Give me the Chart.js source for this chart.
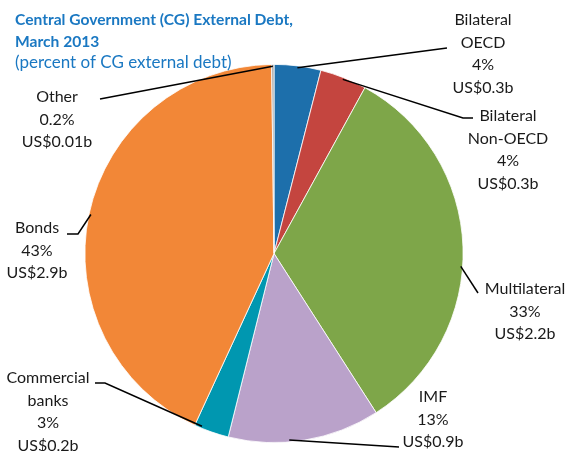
<!DOCTYPE html>
<html>
<head>
<meta charset="utf-8">
<script src="https://cdn.jsdelivr.net/npm/chart.js@4.4.0/dist/chart.umd.min.js"></script>
<style>
  html, body { margin: 0; padding: 0; background: #fff; }
  #wrap { position: relative; width: 569px; height: 451px; }
</style>
</head>
<body>
<div id="wrap"><canvas id="debt-pie" width="569" height="451"></canvas></div>
<script>
// Central government external debt by creditor, March 2013
const categories = ['Bilateral OECD', 'Bilateral Non-OECD', 'Multilateral', 'IMF', 'Commercial banks', 'Bonds', 'Other'];
const labelLines = [['Bilateral', 'OECD'], ['Bilateral', 'Non-OECD'], ['Multilateral'], ['IMF'], ['Commercial', 'banks'], ['Bonds'], ['Other']];
const shares = [4, 4, 33, 13, 3, 43, 0.2];
const amounts = ['0.3', '0.3', '2.2', '0.9', '0.2', '2.9', '0.01'];
const sliceColors = ['#1d6fab', '#c4453f', '#7ea649', '#baa2ca', '#0097b0', '#f28737', '#a6a6a6'];

const titleLines = ['Central Government (CG) External Debt,', 'March 2013'];
const subtitle = '(percent of CG external debt)';

// callout placement: where along the slice the leader starts (0..1),
// the leader's further points, and the centre/top of the text block
const callouts = [
    { t: 0.5,  path: [[447, 48]],              x: 483, y: 20 },
    { t: 0.5,  path: [[463, 118], [473, 118]], x: 508, y: 116 },
    { t: 0.55, path: [[478, 293]],             x: 525, y: 289 },
    { t: 0.6,  path: [[399, 447]],             x: 433, y: 397 },
    { t: 0.8,  path: [[105, 383], [95, 383]],  x: 48,  y: 378 },
    { t: 0.5,  path: [[78, 234], [67, 234]],   x: 37,  y: 228 },
    { t: 0.5,  path: [[100, 99]],              x: 57,  y: 97 }
];

const FONT = 'Lato, "Open Sans", sans-serif';
const LINE_H = 22.5;

const calloutPlugin = {
    id: 'callouts',
    afterDraw(chart) {
        const ctx = chart.ctx;
        const arcs = chart.getDatasetMeta(0).data;

        ctx.save();
        // leader lines
        ctx.strokeStyle = '#000';
        ctx.lineWidth = 1.5;
        arcs.forEach((arc, i) => {
            const c = callouts[i];
            const p = arc.getProps(['x', 'y', 'startAngle', 'endAngle', 'outerRadius'], true);
            const a = p.startAngle + (p.endAngle - p.startAngle) * c.t;
            const r = p.outerRadius * 0.99;
            ctx.beginPath();
            ctx.moveTo(p.x + Math.cos(a) * r, p.y + Math.sin(a) * r);
            c.path.forEach(pt => ctx.lineTo(pt[0], pt[1]));
            ctx.stroke();
        });

        // label text
        ctx.fillStyle = '#1a1a1a';
        ctx.font = '16px ' + FONT;
        ctx.textAlign = 'center';
        ctx.textBaseline = 'middle';
        arcs.forEach((arc, i) => {
            const c = callouts[i];
            const lines = labelLines[i].concat([shares[i] + '%', 'US$' + amounts[i] + 'b']);
            lines.forEach((s, k) => ctx.fillText(s, c.x, c.y + k * LINE_H));
        });

        // title block
        ctx.textAlign = 'left';
        ctx.fillStyle = '#1a78c2';
        ctx.font = 'bold 15.6px ' + FONT;
        titleLines.forEach((s, k) => ctx.fillText(s, 15, 20 + k * 22));
        ctx.font = '17px ' + FONT;
        ctx.fillText(subtitle, 15, 63);
        ctx.restore();
    }
};

new Chart(document.getElementById('debt-pie'), {
    type: 'pie',
    data: {
        labels: categories,
        datasets: [{
            data: shares,
            backgroundColor: sliceColors,
            borderColor: '#ffffff',
            borderWidth: 0.8
        }]
    },
    options: {
        responsive: false,
        animation: false,
        layout: { padding: { top: 64, bottom: 8, left: 84, right: 105 } },
        plugins: {
            legend: { display: false },
            tooltip: { enabled: false }
        }
    },
    plugins: [calloutPlugin]
});
</script>
</body>
</html>
